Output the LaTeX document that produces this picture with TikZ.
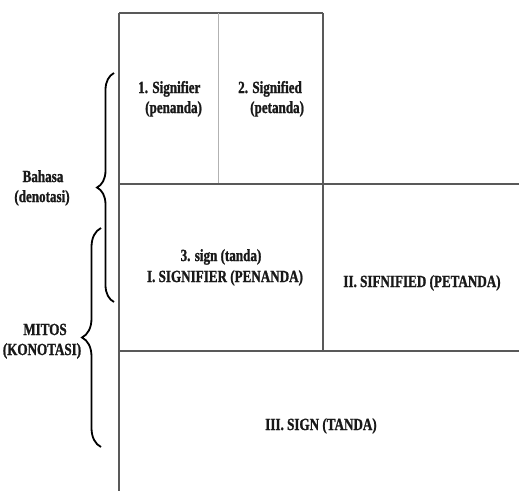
\documentclass[tikz,border=0pt]{standalone}
\usepackage{fontspec}
\setmainfont{Liberation Serif}[FakeStretch=0.77, BoldFeatures={FakeBold=1.2}]
\usetikzlibrary{decorations.pathreplacing}
\tikzset{
  lbl/.style={font=\bfseries\fontsize{17}{20}\selectfont, inner sep=0pt, anchor=base west, text=black!90},
  rule/.style={draw=black!65, line width=1.3pt},
  softrule/.style={draw=black!30, line width=0.8pt},
  bracket/.style={draw=black, line width=1.8pt, decorate, decoration={brace, amplitude=#1}},
}
\begin{document}
\begin{tikzpicture}[x=1pt, y=-1pt]
  \useasboundingbox[fill=white] (0,0) rectangle (519,491);

  % grid of the two-level sign table
  \draw[rule] (119,13) -- (323,13);
  \draw[rule] (119,13) -- (119,491);
  \draw[softrule] (218,13) -- (218,184);
  \draw[rule] (119,184) -- (519,184);
  \draw[rule] (323,13) -- (323,351);
  \draw[rule] (119,351) -- (519,351);

  % first level: language
  \node[lbl] (sr)  at (138,93)  {1. Signifier};
  \node[lbl] (srp) at (145,113) {(penanda)};
  \node[lbl] (sd)  at (238,93)  {2. Signified};
  \node[lbl] (sdp) at (250,113) {(petanda)};

  % second level: myth
  \node[lbl, anchor=base] (sg)  at (221,261) {3. sign (tanda)};
  \node[lbl, anchor=base] (bsr) at (225,282) {I. SIGNIFIER (PENANDA)};
  \node[lbl, anchor=base] (bsd) at (422,287) {II. SIFNIFIED (PETANDA)};
  \node[lbl, anchor=base] (bsg) at (321,430) {III. SIGN (TANDA)};

  % level labels with braces
  \node[lbl, anchor=base] (bh)  at (43,182) {Bahasa};
  \node[lbl, anchor=base] (bhd) at (42,202) {(denotasi)};
  \node[lbl, anchor=base] (mt)  at (45,335) {MITOS};
  \node[lbl, anchor=base] (mtk) at (42,355) {(KONOTASI)};

  \coordinate (b1top) at (114,73);
  \coordinate (b1bot) at (114,302);
  \coordinate (b2top) at (101,228);
  \coordinate (b2bot) at (101,447);
  \draw[bracket=17pt] (b1bot) -- (b1top);
  \draw[bracket=19pt] (b2bot) -- (b2top);
\end{tikzpicture}
\end{document}
